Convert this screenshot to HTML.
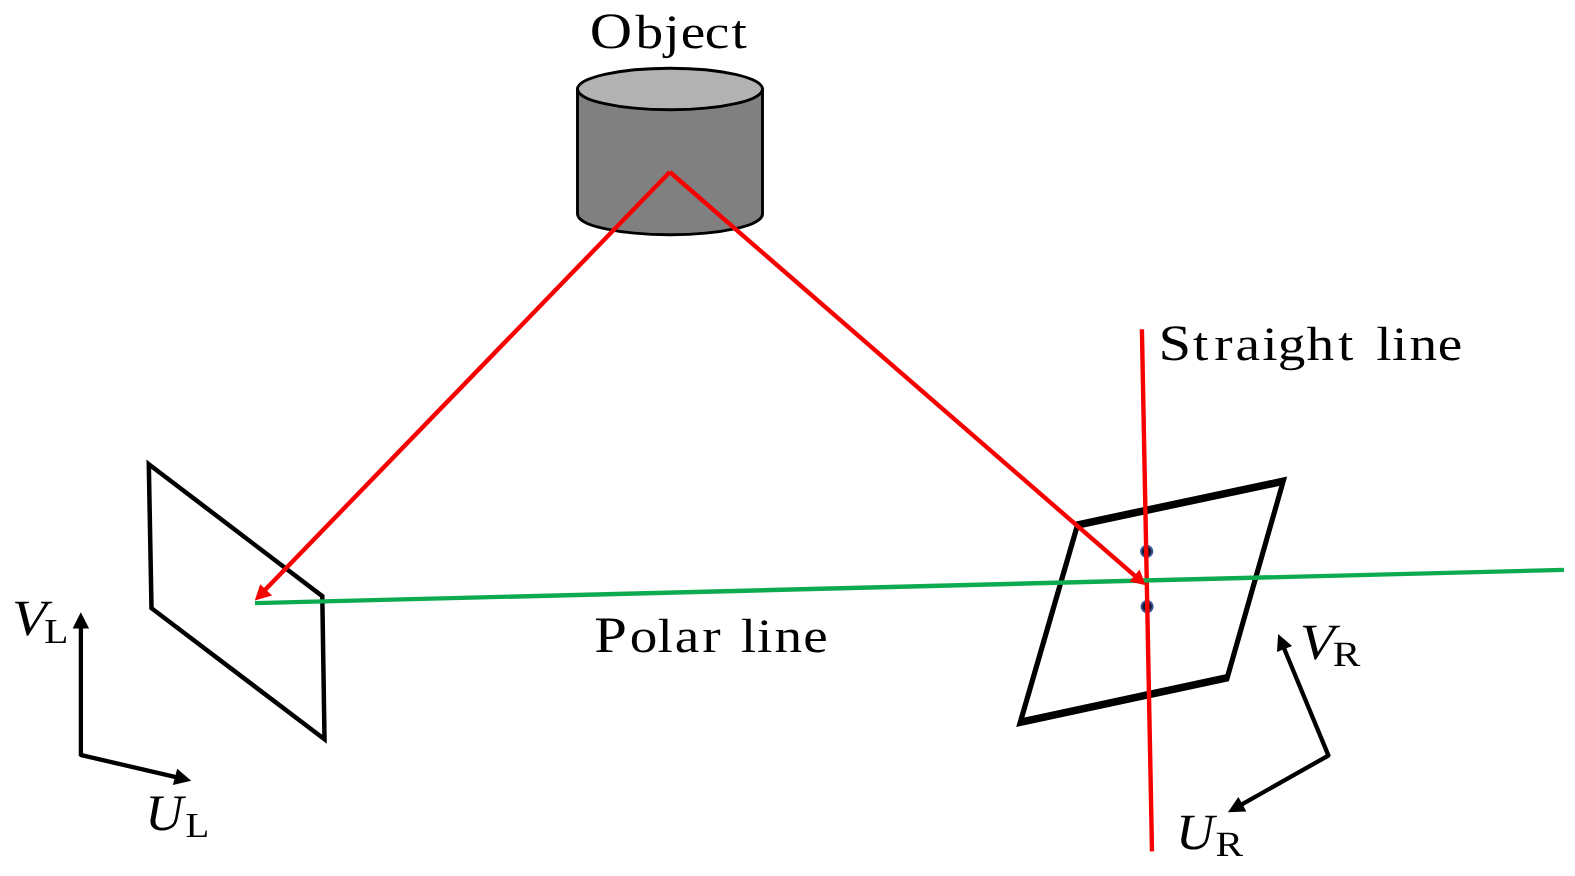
<!DOCTYPE html>
<html>
<head>
<meta charset="utf-8">
<title>Polar line diagram</title>
<style>
  html, body { margin: 0; padding: 0; background: #ffffff; }
  body { width: 1575px; height: 876px; overflow: hidden; }
  svg { display: block; }
  text { font-family: "Liberation Serif", serif; fill: #000; text-rendering: geometricPrecision; }
  .it { font-style: italic; }
</style>
</head>
<body>
<svg width="1575" height="876" viewBox="0 0 1575 876">
  <rect x="0" y="0" width="1575" height="876" fill="#ffffff"/>

  <!-- cylinder -->
  <path d="M577.5 89 L577.5 214 A92.5 20.8 0 0 0 762.5 214 L762.5 89 Z" fill="#808080" stroke="#000" stroke-width="2.9" stroke-linejoin="round"/>
  <ellipse cx="670" cy="89" rx="92.5" ry="20.8" fill="#b2b2b2" stroke="#000" stroke-width="2.9"/>

  <!-- left image plane -->
  <polygon points="148.8,464.2 322.3,596.2 324.5,739.2 151.5,608.2" fill="none" stroke="#000" stroke-width="4.5" stroke-linejoin="miter" stroke-miterlimit="10"/>

  <!-- right image plane -->
  <path fill="#000" fill-rule="evenodd" d="M1075.8 521.4 L1287.2 476.6 L1228.9 681.3 L1016.2 726.9 Z M1079.2 528.4 L1279.2 486.0 L1225.5 674.3 L1024.4 717.5 Z"/>

  <!-- dots -->
  <circle cx="1146.7" cy="551.4" r="5.6" fill="#15152c" stroke="#3a5796" stroke-width="2"/>
  <circle cx="1147.1" cy="606.6" r="5.6" fill="#15152c" stroke="#3a5796" stroke-width="2"/>

  <!-- red straight line -->
  <line x1="1141.9" y1="329.3" x2="1152" y2="851.4" stroke="#f60000" stroke-width="4.4"/>

  <!-- green polar line -->
  <line x1="255" y1="603.1" x2="1564" y2="569.9" stroke="#0dab50" stroke-width="4.4"/>

  <!-- red rays -->
  <g stroke="#f60000" stroke-width="4.4" fill="none">
    <line x1="669.8" y1="172" x2="263" y2="592"/>
    <line x1="669.8" y1="172" x2="1137" y2="577.7"/>
  </g>
  <polygon points="254.8,600.5 260.2,584.3 272.1,595.6" fill="#f60000"/>
  <polygon points="1145.7,585.3 1139.6,569.4 1129.6,581.4" fill="#f60000"/>

  <!-- left axes -->
  <g stroke="#000" stroke-width="4.3" fill="none" stroke-linecap="butt">
    <line x1="80.9" y1="626" x2="80.9" y2="756.2"/>
    <line x1="80.3" y1="754.9" x2="176" y2="777.1"/>
  </g>
  <polygon points="80.8,612.2 72.6,628.6 89.1,628.6" fill="#000"/>
  <polygon points="191.2,780.7 172.9,785.1 177.2,768.8" fill="#000"/>

  <!-- right axes -->
  <g stroke="#000" stroke-width="4.3" fill="none" stroke-linecap="butt">
    <line x1="1283.5" y1="647" x2="1328.9" y2="756.6"/>
    <line x1="1329.2" y1="755.1" x2="1241" y2="804.9"/>
  </g>
  <polygon points="1278.1,634 1277,652.1 1292.1,645.9" fill="#000"/>
  <polygon points="1227.9,812.3 1238.4,797 1246.4,811.4" fill="#000"/>

  <!-- labels -->
  <g opacity="0.999">
  <text aria-label="Object" transform="translate(0,48.2) scale(1.150,1)" font-size="48" x="512.8 552.5 577.5 591.9 612.9 636.2"><tspan font-size="51">O</tspan>bject</text>
  <text aria-label="Straight line" transform="translate(0,360.3) scale(1.150,1)" font-size="48" x="1007.3 1037.3 1055.9 1074.4 1097.5 1111.0 1136.1 1163.5 1175.5 1196.8 1210.5 1225.7 1250.3"><tspan font-size="51">S</tspan>traight line</text>
  <text aria-label="Polar line" transform="translate(0,651.8) scale(1.150,1)" font-size="48" x="516.8 547.6 571.7 586.7 610.7 622.7 644.2 658.2 673.5 698.4"><tspan font-size="51">P</tspan>olar line</text>

  <text transform="translate(11.92,635.23) scale(1.122,1)" font-size="50.90" class="it">V</text>
  <text transform="translate(44.26,642.80) scale(1.128,1)" font-size="34.97">L</text>
  <text transform="translate(145.17,830.40) scale(1.028,1)" font-size="51.16" class="it">U</text>
  <text transform="translate(185.48,836.90) scale(1.107,1)" font-size="35.13">L</text>

  <text transform="translate(1299.81,659.23) scale(1.128,1)" font-size="50.75" class="it">V</text>
  <text transform="translate(1332.81,666.10) scale(1.161,1)" font-size="35.58">R</text>
  <text transform="translate(1175.95,849.40) scale(1.040,1)" font-size="50.86" class="it">U</text>
  <text transform="translate(1215.61,856.10) scale(1.161,1)" font-size="35.58">R</text>
  </g>
</svg>
</body>
</html>
